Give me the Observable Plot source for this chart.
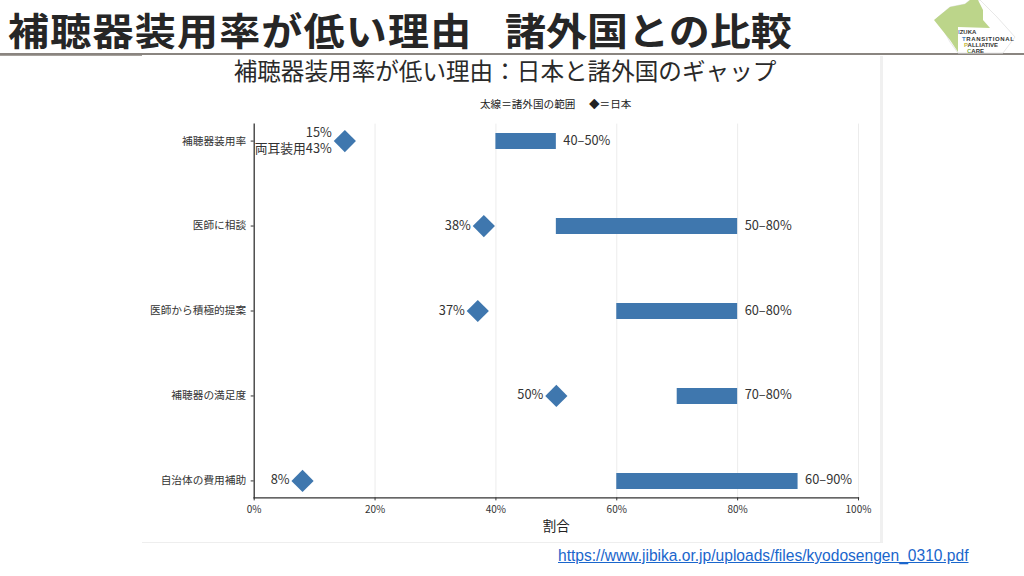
<!DOCTYPE html>
<html lang="ja">
<head>
<meta charset="utf-8">
<title>補聴器装用率が低い理由</title>
<script src="https://cdn.jsdelivr.net/npm/d3@7"></script>
<script src="https://cdn.jsdelivr.net/npm/@observablehq/plot@0.6"></script>
<style>
html,body{margin:0;padding:0;background:#fff;}
body{position:relative;width:1024px;height:576px;overflow:hidden;font-family:"Noto Sans CJK JP","Noto Sans",sans-serif;}
.abs{position:absolute;white-space:pre;}
.head{top:5.5px;font-size:38px;line-height:46px;font-weight:700;color:#262626;transform:scaleX(1.08);transform-origin:left center;}
#head1{left:8px;letter-spacing:1.1px;}
#head2{left:505px;letter-spacing:0;}
#rule{left:0;top:53px;width:1024px;height:2px;background:#8a8580;}
#rule2{left:0;top:55px;width:142px;height:1px;background:#a5a19c;}
#panel{left:142px;top:56px;width:738px;height:486px;background:#fff;border-right:3px solid #f0f0f0;border-bottom:1px solid #eee;}
#ctitle{left:142px;width:726px;top:56.5px;text-align:center;font-size:23.6px;line-height:26px;color:#2a2a2a;}
#legend1{left:480px;top:96px;font-size:10.6px;line-height:16px;color:#222;}
#legend2{left:589px;top:96px;font-size:10.6px;line-height:16px;color:#222;}
#link{left:558px;top:546px;font:15.58px/20px "Liberation Sans",Arial,sans-serif;color:#1a66cc;text-decoration:underline;}
#logo{left:925px;top:0;}
#chart{left:0;top:0;}
svg{background:transparent;}
</style>
</head>
<body>
<div class="abs" id="panel"></div>
<div class="abs head" id="head1">補聴器装用率が低い理由</div>
<div class="abs head" id="head2">諸外国との比較</div>
<div class="abs" id="rule"></div>
<div class="abs" id="rule2"></div>
<div class="abs" id="ctitle">補聴器装用率が低い理由：日本と諸外国のギャップ</div>
<div class="abs" id="legend1">太線＝諸外国の範囲</div>
<div class="abs" id="legend2">◆＝日本</div>
<div class="abs" id="link">https://www.jibika.or.jp/uploads/files/kyodosengen_0310.pdf</div>
<svg class="abs" id="logo" width="99" height="54" viewBox="0 0 99 54">
  <path d="M12 18 L25 7 L40 4 L45 0 L55 0 L72 17 L90 37 L78 53 L33 53 L25 42 Z" fill="#fff" stroke="#e8e8e8"/>
  <path d="M9 20 L25 7 L40 4 L45 0 L53 0 L58 10 L58 20 L65 28 L33 27 L33 52 L25 40 Z" fill="#bcd58a"/>
  <g font-family="Liberation Sans,sans-serif" font-size="6" font-weight="700" fill="#333">
    <text x="33" y="34"><tspan fill="#3f7fc0">I</tspan>ZUKA</text>
    <text x="37" y="41" textLength="52"><tspan fill="#3f7fc0">T</tspan>RANSITIONAL</text>
    <text x="39" y="47"><tspan fill="#c7b83e">P</tspan>ALLIATIVE</text>
    <text x="42" y="53"><tspan fill="#7fb04a">C</tspan>ARE</text>
  </g>
</svg>
<div class="abs" id="chart"></div>
<script>
const categories = ["補聴器装用率", "医師に相談", "医師から積極的提案", "補聴器の満足度", "自治体の費用補助"];
const japanValues = [15, 38, 37, 50, 8];
const japanLabels = ["15%\n両耳装用43%", "38%", "37%", "50%", "8%"];
const rangeLow = [40, 50, 60, 70, 60];
const rangeHigh = [50, 80, 80, 80, 90];
const rangeLabels = ["40–50%", "50–80%", "60–80%", "70–80%", "60–90%"];
const xTicks = [0, 20, 40, 60, 80, 100];
const gridTicks = [20, 40, 60, 80, 100];
const xLabel = "割合";

const rows = categories.map((category, i) => ({
  category,
  japan: japanValues[i],
  japanLabel: japanLabels[i],
  low: rangeLow[i],
  high: rangeHigh[i],
  rangeLabel: rangeLabels[i]
}));

const font = '"Noto Sans CJK JP","Noto Sans",sans-serif';
const blue = "#3f77ae";

const plot = Plot.plot({
  width: 1024,
  height: 576,
  marginLeft: 253.7,
  marginRight: 166,
  marginTop: 123.6,
  marginBottom: 78.6,
  style: {background: "transparent", fontFamily: font},
  x: {domain: [0, 100], label: null},
  y: {type: "point", domain: categories, padding: 0.2, round: false, label: null},
  marks: [
    Plot.ruleX(gridTicks, {x: d => d, stroke: "#ececec", strokeWidth: 1}),
    Plot.axisX({
      ticks: xTicks, tickFormat: d => d + "%", tickSize: 3, tickPadding: 5,
      fontSize: 10, fill: "#333", stroke: "#333", label: null
    }),
    Plot.axisY({
      tickSize: 3, tickPadding: 5, fontSize: 10.7, fill: "#333", stroke: "#333", label: null
    }),
    Plot.frame({anchor: "left", stroke: "#333", strokeWidth: 1.3}),
    Plot.frame({anchor: "bottom", stroke: "#333", strokeWidth: 1.3}),
    Plot.ruleY(rows, {
      y: "category", x1: "low", x2: "high",
      stroke: blue, strokeWidth: 16
    }),
    Plot.dot(rows, {
      x: "japan", y: "category", symbol: "diamond2", r: 10, fill: blue, stroke: "none"
    }),
    Plot.text(rows, {
      x: "japan", y: "category", text: "japanLabel", textAnchor: "end",
      dx: -13, dy: -1.6, fontSize: 12.8, lineHeight: 1.25, fill: "#333"
    }),
    Plot.text(rows, {
      x: "high", y: "category", text: "rangeLabel", textAnchor: "start",
      dx: 7, dy: -0.6, fontSize: 12.8, fill: "#333"
    }),
    Plot.text([xLabel], {
      frameAnchor: "bottom", dy: 33, text: d => d, fontSize: 13.5, fill: "#222"
    })
  ]
});
document.getElementById("chart").appendChild(plot);
</script>
</body>
</html>
